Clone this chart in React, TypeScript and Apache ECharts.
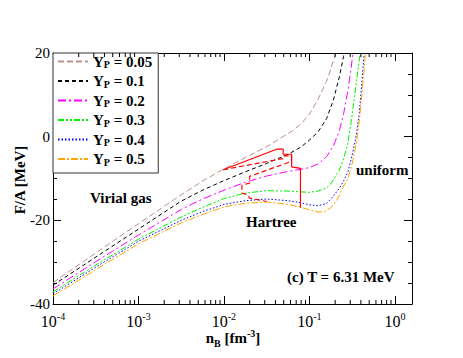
import React, { useEffect, useRef } from 'react';
import * as echarts from 'echarts';

// Data: [log10(nB / fm^-3), F/A (MeV)]
const ypLabels = ['0.05', '0.1', '0.2', '0.3', '0.4', '0.5'];

const yp005: number[][] = [[-4,-34.9],[-3.5,-27.8],[-3,-20.8],[-2.5,-13.9],[-2.25,-10.6],[-2,-7.7],[-1.75,-5.0],[-1.5,-2.4],[-1.35,-0.5],[-1.2,1.4],[-1.1,3.0],[-1.0,5.4],[-0.9,8.9],[-0.8,13.2],[-0.75,16.2],[-0.7,19.5],[-0.69,20]];
const yp01: number[][] = [[-4,-35.5],[-3.5,-28.8],[-3,-22.1],[-2.5,-15.4],[-2.25,-12.8],[-2,-10.5],[-1.75,-8.4],[-1.5,-6.4],[-1.25,-4.2],[-1.1,-2.5],[-1.0,-0.8],[-0.9,1.1],[-0.8,4.3],[-0.72,8.7],[-0.65,14.3],[-0.6,19.2],[-0.593,20]];
const yp02: number[][] = [[-4,-36.4],[-3.5,-29.9],[-3,-23.5],[-2.5,-17.4],[-2.25,-14.9],[-2,-12.8],[-1.75,-10.9],[-1.5,-9.4],[-1.25,-8.3],[-1.1,-7.8],[-1.0,-7.4],[-0.9,-6.5],[-0.8,-4.8],[-0.72,-2.2],[-0.65,1.4],[-0.6,5.5],[-0.55,11.0],[-0.52,15.3],[-0.49,20]];
const yp03: number[][] = [[-4,-37.1],[-3.5,-30.7],[-3,-24.5],[-2.5,-19.2],[-2.25,-16.9],[-2,-14.8],[-1.75,-13.5],[-1.5,-12.9],[-1.25,-13.0],[-1.1,-13.2],[-1.0,-13.3],[-0.9,-13.0],[-0.8,-12.3],[-0.75,-11.3],[-0.7,-9.6],[-0.65,-8.0],[-0.6,-5.3],[-0.55,-1.5],[-0.5,5.2],[-0.45,13.3],[-0.405,20]];
const yp04: number[][] = [[-4,-37.6],[-3.5,-31.2],[-3,-25.0],[-2.5,-20.0],[-2.25,-17.9],[-2,-16.2],[-1.75,-15.3],[-1.5,-14.9],[-1.25,-15.3],[-1.1,-15.8],[-1.0,-16.3],[-0.9,-16.5],[-0.8,-16.0],[-0.72,-14.2],[-0.65,-12.3],[-0.6,-10.6],[-0.55,-8.4],[-0.5,-4.5],[-0.45,0.5],[-0.42,5.0],[-0.39,12.0],[-0.36,20]];
const yp05: number[][] = [[-4,-38.1],[-3.5,-31.8],[-3,-25.6],[-2.5,-20.6],[-2.25,-18.6],[-2,-16.8],[-1.75,-15.9],[-1.5,-15.6],[-1.25,-16.2],[-1.1,-16.9],[-1.0,-17.5],[-0.9,-18.0],[-0.82,-17.9],[-0.75,-17.0],[-0.7,-15.8],[-0.65,-14.0],[-0.6,-11.8],[-0.55,-10.0],[-0.5,-6.5],[-0.45,-1.5],[-0.41,5.0],[-0.38,11.5],[-0.345,20]];

// Red Hartree boundary lines
const hartreeSolid: number[][] = [[-1.105,-17.0],[-1.105,-7.6],[-1.208,-7.2],[-1.208,-4.2],[-1.307,-4.2],[-1.307,-3.0],[-1.384,-3.0],[-2.009,-7.9]];
const hartreeDashed: number[][] = [[-2.009,-7.9],[-1.30,-5.2],[-1.30,-4.6],[-1.21,-4.6],[-1.21,-5.9],[-1.70,-9.5],[-1.70,-11.1],[-1.79,-11.6],[-1.79,-13.5],[-1.72,-13.9],[-1.70,-14.7],[-1.50,-15.5]];

const allSeries = [yp005, yp01, yp02, yp03, yp04, yp05];
const colors = ['#bc8f8f', '#000000', '#ff00ff', '#00ee00', '#0000ff', '#ffa500'];
const dashes = [[6, 3], [4, 3], [8, 3, 2, 3], [6, 2, 2, 2, 2, 2], [1.5, 2], [7, 2, 2, 2]];

const xMinLog = -4;
const xMaxLog = 0.2;
const yMin = -40;
const yMax = 20;

const FONT = '"Liberation Serif", "Times New Roman", serif';

const toPts = (arr: number[][]) => arr.map(([l, f]) => [Math.pow(10, l), f]);

export default function App() {
  const ref = useRef<HTMLDivElement>(null);
  useEffect(() => {
    if (!ref.current) return;
    const chart = echarts.init(ref.current, undefined, { renderer: 'svg' });

    const minorTicks: number[][] = [];
    for (let k = xMinLog; k < 1; k++) {
      for (let m = 2; m <= 9; m++) {
        const v = m * Math.pow(10, k);
        if (v <= Math.pow(10, xMaxLog)) minorTicks.push([v, 0]);
      }
    }

    const names = ypLabels.map((l) => 'Y_P = ' + l);

    const xLabelFmt = (v: number) => {
      const lg = Math.log10(v);
      const k = Math.round(lg);
      if (Math.abs(lg - k) > 1e-6) return '';
      return `{b|10}{s|${k}}`;
    };

    const axisCommon = {
      axisLine: { show: true, onZero: false, lineStyle: { color: '#000', width: 1 } },
      splitLine: { show: false },
    };

    const option: any = {
      animation: false,
      backgroundColor: '#fff',
      grid: { left: 53, right: 51, top: 53, bottom: 54, containLabel: false, outerBoundsMode: 'none' },
      legend: {
        data: names,
        orient: 'vertical',
        left: 53,
        top: 53,
        padding: [1, 6, 6, 4],
        itemGap: 4,
        itemWidth: 30,
        itemHeight: 16,
        backgroundColor: '#fff',
        borderColor: '#333',
        borderWidth: 1,
        borderRadius: 0,
        selectedMode: false,
        itemStyle: { opacity: 0 },
        formatter: (name: string) => `{y|Y}{p|P}{t|${name.slice(3)}}`,
        textStyle: {
          color: '#000',
          fontFamily: FONT,
          rich: {
            y: { fontSize: 15, fontWeight: 'bold', fontFamily: FONT, lineHeight: 16, color: '#000' },
            p: { fontSize: 10, fontWeight: 'bold', fontFamily: FONT, lineHeight: 9, verticalAlign: 'bottom', color: '#000' },
            t: { fontSize: 15, fontWeight: 'bold', fontFamily: FONT, lineHeight: 16, color: '#000' },
          },
        },
      },
      xAxis: [
        {
          type: 'log',
          logBase: 10,
          min: Math.pow(10, xMinLog),
          max: Math.pow(10, xMaxLog),
          position: 'bottom',
          ...axisCommon,
          axisTick: { show: true, inside: true, length: 8, lineStyle: { color: '#000' } },
          axisLabel: {
            formatter: xLabelFmt,
            margin: 7,
            color: '#000',
            showMaxLabel: false,
            rich: {
              b: { fontSize: 16, fontFamily: FONT, color: '#000', lineHeight: 20 },
              s: { fontSize: 10, fontFamily: FONT, color: '#000', lineHeight: 11, verticalAlign: 'top' },
            },
          },
        },
        {
          type: 'log',
          logBase: 10,
          min: Math.pow(10, xMinLog),
          max: Math.pow(10, xMaxLog),
          position: 'top',
          ...axisCommon,
          axisTick: { show: true, inside: true, length: 8, lineStyle: { color: '#000' } },
          axisLabel: { show: false },
        },
      ],
      yAxis: [
        {
          type: 'value',
          min: yMin,
          max: yMax,
          interval: 20,
          position: 'left',
          ...axisCommon,
          axisTick: { show: true, inside: true, length: 8, lineStyle: { color: '#000' } },
          minorTick: { show: true, splitNumber: 4, length: 4, lineStyle: { color: '#000' } },
          minorSplitLine: { show: false },
          axisLabel: { color: '#000', fontSize: 15, fontFamily: FONT, margin: 3 },
        },
        {
          type: 'value',
          min: yMin,
          max: yMax,
          interval: 20,
          position: 'right',
          ...axisCommon,
          axisTick: { show: true, inside: true, length: 8, lineStyle: { color: '#000' } },
          minorTick: { show: true, splitNumber: 4, length: 4, lineStyle: { color: '#000' } },
          minorSplitLine: { show: false },
          axisLabel: { show: false },
        },
      ],
      series: [
        ...allSeries.map((d, i) => ({
          name: names[i],
          type: 'line',
          data: toPts(d),
          showSymbol: false,
          symbol: 'none',
          smooth: false,
          clip: true,
          lineStyle: { color: colors[i], width: 1, type: dashes[i] },
          itemStyle: { color: colors[i] },
          z: 3,
        })),
        {
          name: 'Hartree solid',
          type: 'line',
          data: toPts(hartreeSolid),
          symbol: 'none',
          lineStyle: { color: '#ff0000', width: 1.2, type: 'solid' },
          z: 4,
        },
        {
          name: 'Hartree dashed',
          type: 'line',
          data: toPts(hartreeDashed),
          symbol: 'none',
          lineStyle: { color: '#ff0000', width: 1.2, type: [5, 3] },
          z: 4,
        },
        {
          name: 'minor ticks',
          type: 'custom',
          silent: true,
          data: minorTicks,
          encode: { x: 0, y: 1 },
          clip: false,
          z: 5,
          renderItem: (params: any, api: any) => {
            const v = api.value(0);
            const b = api.coord([v, yMin]);
            const t = api.coord([v, yMax]);
            return {
              type: 'group',
              children: [
                { type: 'line', shape: { x1: b[0], y1: b[1], x2: b[0], y2: b[1] - 4 }, style: { stroke: '#000', lineWidth: 1 } },
                { type: 'line', shape: { x1: t[0], y1: t[1], x2: t[0], y2: t[1] + 4 }, style: { stroke: '#000', lineWidth: 1 } },
              ],
            };
          },
        },
      ],
      graphic: [
        {
          type: 'text', x: 20, y: 180, rotation: Math.PI / 2,
          style: { text: 'F/A [MeV]', font: `bold 15px ${FONT}`, fill: '#000', align: 'center', verticalAlign: 'middle' },
        },
        {
          type: 'text', x: 233, y: 338,
          style: {
            text: '{b|n}{sub|B}{b| [fm}{sup|-3}{b|]}',
            align: 'center', verticalAlign: 'middle', fill: '#000',
            rich: {
              b: { font: `bold 15px ${FONT}`, lineHeight: 20, fill: '#000' },
              sub: { font: `bold 10px ${FONT}`, lineHeight: 11, verticalAlign: 'bottom', fill: '#000' },
              sup: { font: `bold 10px ${FONT}`, lineHeight: 11, verticalAlign: 'top', fill: '#000' },
            },
          },
        },
        { type: 'text', x: 90, y: 198, style: { text: 'Virial gas', font: `bold 15px ${FONT}`, fill: '#000', verticalAlign: 'middle' } },
        { type: 'text', x: 246, y: 222, style: { text: 'Hartree', font: `bold 15px ${FONT}`, fill: '#000', verticalAlign: 'middle' } },
        { type: 'text', x: 356, y: 170, style: { text: 'uniform', font: `bold 15px ${FONT}`, fill: '#000', verticalAlign: 'middle' } },
        { type: 'text', x: 287, y: 277, style: { text: '(c) T = 6.31 MeV', font: `bold 15px ${FONT}`, fill: '#000', verticalAlign: 'middle' } },
      ],
    };

    chart.setOption(option);
    return () => chart.dispose();
  }, []);

  return (
    <div
      ref={ref}
      style={{ position: 'absolute', left: 0, top: 0, width: 463, height: 358, background: '#fff' }}
    />
  );
}
